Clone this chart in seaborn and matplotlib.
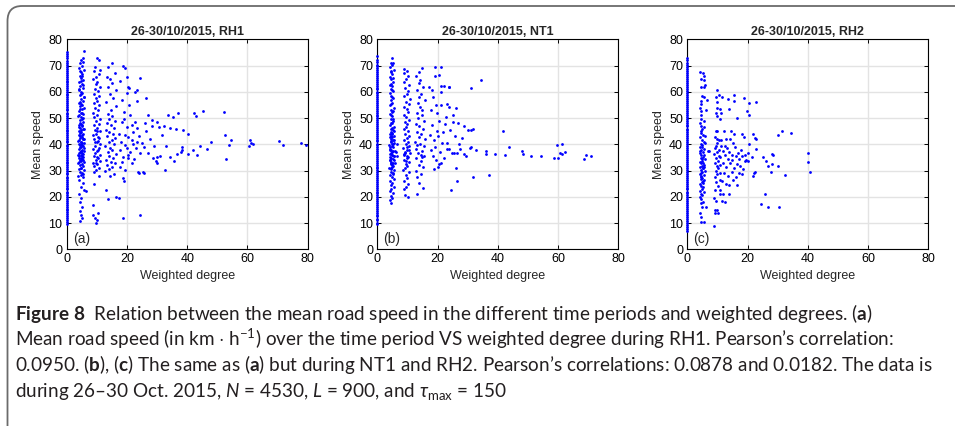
import pandas as pd
import seaborn as sns
import matplotlib.pyplot as plt
from matplotlib.path import Path
from matplotlib.patches import PathPatch

# ---- data ----
titles = ['26-30/10/2015, RH1', '26-30/10/2015, NT1', '26-30/10/2015, RH2']
tags = ['(a)', '(b)', '(c)']

# RH1: speeds of roads with weighted degree 0
rh1_zero_speed = [
    9.8, 10.5, 11.3, 12.0, 12.6, 13.4, 14.1, 14.9, 15.5, 16.2, 17.0, 17.8, 18.4,
    19.1, 19.9, 20.6, 21.3, 22.0, 22.8, 23.5, 24.1, 24.9, 25.6, 26.4, 27.0, 27.7,
    28.5, 29.2, 29.9, 30.6, 31.3, 32.1, 32.8, 33.4, 34.2, 34.9, 35.7, 36.3, 37.0,
    37.8, 38.5, 39.2, 39.9, 40.7, 41.4, 42.0, 42.8, 43.5, 44.3, 44.9, 45.6, 46.4,
    47.1, 47.8, 48.5, 49.3, 50.0, 50.6, 51.4, 52.1, 52.9, 53.5, 54.2, 55.0, 55.7,
    56.4, 57.1, 57.9, 58.6, 59.2, 60.0, 60.7, 61.5, 62.1, 62.8, 63.6, 64.3, 65.0,
    65.7, 66.5, 67.2, 67.8, 68.6, 69.3, 70.1, 70.8, 71.6, 72.7, 73.5, 74.4, 75.3]

# RH1: (weighted degree, mean speed) for the other roads
rh1_points = [
    (4.4, 10.9), (5.1, 11.8), (4.6, 13.2), (4.3, 14.5), (5.0, 16.0), (4.5, 18.1),
    (4.8, 19.4), (4.2, 21.0), (5.9, 22.6), (6.3, 22.4), (4.7, 23.9), (5.3, 25.2),
    (4.1, 26.5), (5.5, 27.4), (3.9, 28.0), (4.7, 28.4), (5.1, 29.1), (4.3, 29.5),
    (5.6, 30.2), (4.1, 30.6), (4.9, 31.0), (5.3, 31.7), (4.5, 32.1), (3.8, 32.8),
    (5.7, 33.2), (4.4, 33.9), (5.0, 34.3), (4.2, 34.6), (5.4, 35.2), (4.8, 35.8),
    (3.9, 36.1), (5.2, 36.7), (4.6, 37.3), (5.8, 37.6), (4.1, 38.2), (4.9, 38.9),
    (5.5, 39.3), (4.3, 39.8), (5.1, 40.4), (4.7, 40.9), (3.9, 41.3), (5.6, 41.9),
    (4.4, 42.5), (5.0, 42.8), (4.2, 43.4), (5.3, 44.1), (4.8, 44.6), (4.0, 45.0),
    (5.7, 45.7), (4.5, 46.2), (5.2, 46.8), (4.1, 47.3), (4.9, 47.9), (5.5, 48.5),
    (4.3, 49.1), (5.1, 49.6), (4.6, 50.3), (3.9, 50.9), (5.4, 51.4), (4.7, 52.1),
    (4.2, 52.8), (5.0, 53.3), (5.6, 54.0), (4.4, 54.7), (4.9, 55.2), (4.1, 55.9),
    (5.3, 56.6), (4.6, 57.3), (5.8, 57.9), (4.3, 58.6), (5.1, 59.4), (4.7, 60.1),
    (4.0, 60.8), (5.5, 61.6), (4.5, 62.3), (5.0, 63.1), (4.2, 63.9), (5.4, 64.6),
    (4.8, 65.4), (4.4, 66.1), (5.2, 66.9), (4.6, 67.6), (5.6, 68.3), (4.1, 69.0),
    (5.0, 69.7), (4.4, 70.8), (5.3, 71.5), (4.8, 72.3), (5.5, 73.0), (5.9, 75.7),
    (4.6, 33.5), (5.2, 35.5), (4.3, 37.0), (4.9, 40.1), (5.4, 42.2), (4.5, 44.3),
    (5.1, 38.0), (4.0, 36.8), (5.7, 40.6), (4.2, 41.7),
    (5.4, 28.8), (4.6, 30.9), (5.0, 32.5), (4.2, 33.1), (5.5, 34.0), (4.7, 34.9),
    (4.1, 35.5), (5.3, 36.4), (4.8, 37.0), (5.6, 38.5), (4.4, 39.0), (5.2, 39.9),
    (4.0, 40.2), (4.9, 41.0), (5.5, 42.0), (4.3, 43.0), (5.1, 43.7), (4.6, 45.3),
    (5.5, 46.0), (4.2, 46.5), (5.0, 47.5), (4.5, 48.2), (5.3, 49.9), (4.1, 51.0),
    (5.0, 51.8), (4.5, 53.6), (5.2, 55.0), (4.3, 56.2), (5.6, 58.2), (4.9, 59.0),
    (4.2, 61.0), (5.3, 62.7), (4.7, 64.0), (5.0, 66.0), (4.5, 68.0),
    (9.7, 9.9), (10.0, 11.2), (9.4, 12.1), (8.8, 13.1), (10.5, 13.7), (8.8, 16.9),
    (9.1, 25.0), (10.6, 27.8), (8.9, 29.5), (9.6, 30.3), (10.8, 30.9), (9.2, 31.6),
    (10.2, 32.4), (8.7, 33.0), (11.0, 33.6), (9.8, 34.2), (10.4, 34.9), (9.0, 35.5),
    (10.9, 36.1), (9.5, 36.8), (10.1, 37.4), (8.8, 38.1), (10.7, 38.7), (9.3, 39.4),
    (11.2, 40.0), (9.9, 40.7), (10.5, 41.3), (9.1, 42.0), (10.3, 42.8), (8.6, 43.5),
    (9.7, 44.1), (10.9, 44.9), (9.4, 45.6), (10.2, 46.4), (8.9, 47.2), (10.6, 47.9),
    (9.6, 48.8), (11.1, 49.6), (9.2, 50.4), (10.0, 51.3), (8.7, 52.1), (10.4, 53.0),
    (9.5, 53.9), (10.8, 54.8), (9.0, 55.7), (10.1, 56.6), (9.7, 57.5), (10.6, 58.4),
    (8.9, 59.3), (10.3, 60.2), (9.4, 61.1), (11.0, 62.0), (9.8, 62.9), (10.2, 63.9),
    (8.8, 64.8), (9.6, 65.7), (10.7, 66.8), (8.9, 68.1), (11.1, 68.3), (9.3, 69.5),
    (10.7, 72.1), (10.0, 72.8), (9.9, 35.0), (10.4, 37.8), (9.4, 41.0), (10.1, 45.2),
    (9.7, 33.0), (10.8, 42.5),
    (13.0, 22.5), (13.8, 19.2), (16.2, 20.1), (14.5, 27.9), (15.6, 28.6), (12.8, 29.8),
    (14.1, 30.5), (15.2, 31.2), (13.4, 32.0), (16.0, 32.7), (14.7, 33.4), (12.9, 34.1),
    (15.5, 34.9), (14.0, 35.6), (16.3, 36.2), (13.6, 37.0), (15.0, 37.7), (14.4, 38.5),
    (12.7, 39.2), (15.8, 40.0), (13.9, 40.7), (14.9, 41.5), (16.1, 42.3), (13.3, 43.0),
    (15.3, 43.8), (14.2, 44.7), (12.9, 45.5), (15.7, 46.3), (14.6, 47.2), (13.5, 48.0),
    (16.0, 48.9), (14.1, 49.8), (15.1, 50.7), (13.7, 51.6), (14.8, 53.0), (16.2, 54.5),
    (13.2, 56.0), (15.4, 57.5), (14.3, 59.0), (16.4, 60.6), (13.6, 62.0), (15.0, 63.5),
    (14.5, 65.0), (13.3, 65.8), (16.0, 67.3), (13.6, 69.6), (15.0, 71.1),
    (18.8, 70.0), (19.4, 69.0), (19.9, 65.8), (20.2, 62.0), (20.8, 61.3), (19.9, 59.4),
    (19.0, 52.4), (18.3, 48.6), (19.9, 46.7), (21.0, 51.2), (21.6, 47.4), (22.7, 48.6),
    (23.2, 46.1), (22.1, 44.8), (20.5, 42.9), (21.6, 41.7), (23.2, 41.0), (19.4, 39.7),
    (17.7, 37.8), (21.0, 37.2), (23.0, 38.5), (24.3, 36.6), (18.8, 35.3), (20.5, 34.7),
    (18.3, 33.4), (21.6, 32.8), (23.8, 29.6), (25.2, 29.3), (18.8, 27.0), (17.2, 19.4),
    (18.8, 12.1), (24.3, 13.1), (24.3, 65.1), (23.2, 60.7), (26.3, 57.5), (22.7, 60.1),
    (23.4, 56.5), (17.5, 44.0), (18.0, 41.0), (19.2, 43.5), (20.0, 38.5), (17.8, 31.5),
    (19.5, 30.2), (22.5, 34.5), (20.7, 55.0), (18.5, 57.0), (17.6, 64.0), (19.1, 49.5),
    (22.0, 40.2), (24.0, 43.2), (20.3, 36.0), (18.9, 26.2),
    (27.1, 51.2), (28.3, 49.3), (28.4, 47.0), (30.0, 48.6), (30.7, 46.6), (32.2, 47.0),
    (33.6, 51.2), (34.4, 46.1), (35.3, 50.3), (36.2, 45.7), (36.8, 51.8), (38.7, 45.6),
    (40.4, 43.9), (42.2, 51.9), (42.8, 50.9), (45.3, 52.8), (52.2, 52.2), (52.4, 43.4),
    (54.6, 41.7), (53.9, 39.6), (52.9, 34.5), (48.0, 41.0), (46.7, 38.1), (44.4, 39.4),
    (43.2, 35.9), (41.9, 37.8), (40.3, 36.2), (38.4, 39.1), (38.2, 37.8), (37.8, 37.2),
    (36.7, 36.3), (35.6, 33.5), (34.4, 35.3), (33.1, 39.4), (31.1, 35.6), (30.0, 35.3),
    (29.7, 33.7), (30.0, 33.0), (32.6, 30.2), (28.7, 34.8), (27.1, 36.6), (25.8, 39.1),
    (25.0, 40.4), (25.6, 29.1), (24.0, 29.1), (60.9, 41.7), (61.1, 40.4), (60.6, 39.5),
    (61.8, 40.0), (70.6, 41.1), (71.8, 39.6), (77.7, 40.6), (79.6, 39.9), (26.3, 45.0),
    (27.5, 42.0), (29.0, 39.5), (31.5, 43.5), (26.0, 48.0)]

# NT1
nt1_zero_speed = [
    9.5, 10.2, 11.0, 11.7, 12.5, 13.2, 13.9, 14.7, 15.4, 16.1, 16.9, 17.6, 18.3,
    19.1, 19.8, 20.5, 21.3, 22.0, 22.7, 23.5, 24.2, 24.9, 25.7, 26.4, 27.1, 27.9,
    28.6, 29.3, 30.1, 30.8, 31.5, 32.3, 33.0, 33.7, 34.5, 35.2, 35.9, 36.7, 37.4,
    38.1, 38.9, 39.6, 40.3, 41.1, 41.8, 42.5, 43.3, 44.0, 44.7, 45.5, 46.2, 46.9,
    47.7, 48.4, 49.1, 49.9, 50.6, 51.3, 52.1, 52.8, 53.5, 54.3, 55.0, 55.7, 56.5,
    57.2, 57.9, 58.7, 59.4, 60.1, 60.9, 61.6, 62.3, 63.1, 63.8, 64.5, 65.3, 66.0,
    66.7, 67.5, 68.2, 68.9, 69.7, 70.4, 71.2, 72.1, 73.5]

nt1_points = [
    (4.6, 17.8), (4.3, 18.6), (4.9, 19.5), (4.4, 20.4), (5.1, 21.3), (4.2, 22.1),
    (4.7, 22.9), (5.4, 23.7), (4.5, 24.5), (5.0, 25.3), (4.1, 26.1), (5.6, 26.9),
    (4.8, 27.6), (4.3, 28.3), (5.2, 29.0), (4.6, 29.6), (5.7, 30.2), (4.0, 30.8),
    (4.9, 31.3), (5.3, 31.9), (4.4, 32.4), (5.8, 32.9), (4.7, 33.4), (4.1, 33.9),
    (5.1, 34.4), (4.5, 34.9), (5.5, 35.4), (4.8, 35.9), (4.2, 36.4), (5.0, 36.9),
    (5.9, 37.4), (4.6, 37.9), (4.3, 38.4), (5.3, 38.9), (4.9, 39.4), (4.0, 39.9),
    (5.6, 40.4), (4.5, 40.9), (5.1, 41.5), (4.7, 42.1), (4.2, 42.7), (5.4, 43.3),
    (4.8, 43.9), (4.4, 44.6), (5.2, 45.3), (4.6, 46.0), (5.7, 46.7), (4.1, 47.4),
    (4.9, 48.2), (5.3, 49.0), (4.5, 49.8), (4.8, 50.6), (4.2, 51.4), (5.0, 52.2),
    (4.6, 53.1), (5.4, 54.0), (4.3, 54.9), (4.9, 55.8), (4.5, 56.7), (5.1, 57.6),
    (4.7, 58.5), (4.2, 59.4), (5.3, 60.3), (4.6, 61.2), (4.9, 62.1), (4.4, 63.0),
    (5.2, 63.9), (4.7, 64.8), (4.1, 65.7), (5.0, 66.6), (4.5, 67.5), (5.4, 68.4),
    (4.3, 69.3), (4.8, 70.2), (4.4, 71.0), (4.9, 73.0), (6.5, 40.0), (6.2, 37.0),
    (6.6, 35.5), (4.4, 30.5), (5.0, 32.0), (4.6, 33.0), (5.4, 34.0), (4.3, 35.0),
    (4.9, 36.0), (5.2, 37.5), (4.1, 38.8), (4.8, 40.2), (5.5, 41.8), (4.4, 43.0),
    (5.0, 44.2),
    (5.3, 28.6), (4.5, 31.0), (5.1, 32.9), (4.3, 34.2), (5.6, 35.7), (4.7, 36.6),
    (4.1, 37.7), (5.3, 40.0), (4.6, 41.2), (5.0, 42.9), (4.3, 44.0), (5.4, 45.0),
    (4.8, 46.4), (4.4, 48.0), (5.1, 49.5), (4.6, 51.0), (5.3, 52.7), (4.4, 55.5),
    (5.0, 58.0), (4.8, 60.8), (4.3, 62.5), (5.1, 65.2), (4.6, 68.0), (5.2, 70.8),
    (9.2, 20.7), (10.1, 20.1), (8.9, 22.8), (9.6, 23.9), (10.3, 25.0), (8.7, 26.0),
    (9.9, 27.2), (9.4, 28.2), (10.6, 29.3), (8.5, 30.1), (9.1, 31.0), (10.0, 31.8),
    (9.5, 32.6), (10.4, 33.3), (8.8, 34.0), (9.7, 34.7), (10.2, 35.3), (9.0, 35.9),
    (10.7, 36.5), (9.3, 37.2), (9.9, 37.9), (8.6, 38.6), (10.5, 39.3), (9.4, 40.0),
    (10.1, 40.8), (8.9, 41.6), (9.8, 42.4), (10.6, 43.2), (9.2, 44.0), (10.3, 44.9),
    (8.7, 45.8), (9.6, 46.7), (10.0, 47.6), (9.1, 48.5), (10.5, 49.4), (9.5, 50.3),
    (8.8, 51.3), (10.2, 52.3), (9.7, 53.3), (9.0, 54.3), (10.4, 55.3), (9.4, 56.3),
    (10.8, 57.3), (8.9, 58.3), (9.8, 59.3), (10.1, 60.4), (9.3, 61.5), (10.6, 62.6),
    (8.7, 63.7), (9.6, 64.8), (10.3, 66.0), (9.0, 67.2), (9.9, 68.0), (8.8, 68.7),
    (9.4, 33.5), (10.0, 35.6), (9.1, 36.8), (10.4, 38.0), (9.7, 39.0), (8.9, 36.2),
    (13.1, 21.0), (15.3, 23.5), (13.9, 25.4), (13.3, 27.5), (14.6, 28.8), (12.7, 30.0),
    (15.1, 31.2), (13.8, 32.3), (14.4, 33.5), (12.9, 34.6), (15.6, 35.6), (13.5, 36.5),
    (14.8, 37.4), (13.0, 38.3), (15.4, 39.2), (14.1, 40.1), (12.6, 41.0), (15.8, 41.9),
    (13.7, 42.8), (14.5, 43.8), (13.2, 44.8), (15.2, 45.8), (14.0, 46.8), (12.8, 47.8),
    (15.5, 48.8), (13.6, 49.9), (14.7, 51.0), (13.1, 52.1), (15.0, 53.2), (14.2, 54.4),
    (13.4, 55.6), (15.7, 56.8), (13.9, 58.0), (14.6, 59.2), (13.2, 60.5), (15.1, 61.8),
    (13.7, 63.2), (14.3, 64.6), (13.0, 66.0), (13.8, 67.6), (15.0, 69.2), (14.4, 36.0),
    (13.3, 39.6), (15.0, 35.0),
    (19.1, 66.2), (20.6, 66.3), (21.0, 62.2), (22.1, 62.2), (21.1, 55.0), (23.0, 55.4),
    (19.9, 51.8), (18.5, 58.0), (19.5, 55.0), (17.8, 53.0), (20.5, 49.0), (18.2, 47.5),
    (19.8, 45.0), (17.5, 43.5), (20.2, 43.0), (18.7, 41.5), (21.5, 40.5), (19.3, 39.0),
    (17.9, 37.8), (20.8, 37.0), (18.4, 35.5), (19.6, 34.2), (21.2, 33.0), (20.0, 31.5),
    (18.8, 30.5), (22.0, 34.8), (21.8, 44.5), (22.5, 47.8), (17.3, 62.0), (18.0, 60.5),
    (21.3, 60.0), (22.8, 50.5), (19.0, 69.5), (21.0, 69.6), (20.4, 32.5),
    (23.7, 61.7), (23.9, 61.7), (23.9, 54.3), (25.2, 51.2), (26.1, 53.7), (26.9, 48.0),
    (28.8, 47.0), (31.2, 45.3), (30.2, 45.5), (31.9, 46.0), (34.4, 64.4), (31.1, 61.6),
    (28.1, 42.5), (25.9, 43.0), (24.7, 36.6), (23.3, 40.6), (23.9, 38.2), (23.0, 38.2),
    (25.4, 36.7), (26.5, 36.6), (27.4, 38.2), (28.8, 36.3), (29.6, 35.6), (30.8, 38.7),
    (31.1, 39.1), (32.7, 37.8), (36.1, 37.6), (36.1, 36.2), (39.0, 36.2), (41.8, 45.1),
    (42.3, 35.9), (43.8, 39.0), (48.0, 37.3), (48.5, 36.4), (51.1, 35.7), (54.4, 35.6),
    (58.8, 34.9), (59.8, 39.9), (60.1, 34.9), (60.6, 36.8), (61.3, 40.3), (61.3, 36.4),
    (62.2, 37.0), (68.7, 34.5), (69.4, 36.1), (70.8, 35.7), (26.1, 31.1), (31.9, 27.7),
    (37.2, 28.3), (26.5, 26.0), (24.4, 22.6), (24.0, 45.5), (25.0, 48.5), (27.0, 40.0)]

# RH2
rh2_zero_speed = [
    7.0, 7.8, 8.5, 9.3, 10.0, 10.8, 11.5, 12.3, 13.0, 13.8, 14.5, 15.3, 16.0, 16.8,
    17.5, 18.3, 19.0, 19.8, 20.5, 21.3, 22.0, 22.8, 23.5, 24.3, 25.0, 25.8, 26.5,
    27.3, 28.0, 28.8, 29.5, 30.3, 31.0, 31.8, 32.5, 33.3, 34.0, 34.8, 35.5, 36.3,
    37.0, 37.8, 38.5, 39.3, 40.0, 40.8, 41.5, 42.3, 43.0, 43.8, 44.5, 45.3, 46.0,
    46.8, 47.5, 48.3, 49.0, 49.8, 50.5, 51.3, 52.0, 52.8, 53.5, 54.3, 55.0, 55.8,
    56.5, 57.3, 58.0, 58.8, 59.5, 60.3, 61.0, 61.8, 62.5, 63.3, 64.0, 64.8, 65.5,
    66.3, 67.0, 67.8, 68.5, 69.3, 70.1, 71.0, 72.0, 73.0]

rh2_points = [
    (4.5, 10.5), (5.5, 10.5), (4.5, 12.4), (4.3, 13.8), (4.8, 16.3), (6.2, 16.3),
    (4.4, 17.5), (5.2, 18.2), (4.6, 19.0), (4.2, 19.8), (5.0, 20.5), (4.7, 21.2),
    (5.6, 21.8), (4.3, 22.4), (4.9, 23.0), (5.3, 23.6), (4.5, 24.1), (4.1, 24.7),
    (5.1, 25.2), (4.8, 25.8), (5.7, 26.3), (4.4, 26.8), (5.0, 27.3), (4.6, 27.8),
    (5.4, 28.3), (4.2, 28.8), (4.9, 29.3), (5.8, 29.8), (4.5, 30.3), (5.2, 30.8),
    (4.3, 31.3), (4.8, 31.8), (5.5, 32.3), (4.6, 32.8), (4.1, 33.3), (5.0, 33.8),
    (5.9, 34.3), (4.4, 34.8), (5.3, 35.3), (4.7, 35.9), (4.2, 36.5), (5.1, 37.1),
    (4.6, 37.7), (5.6, 38.3), (4.3, 38.9), (4.9, 39.6), (4.5, 40.3), (5.4, 41.0),
    (4.8, 41.8), (4.2, 42.6), (5.2, 43.4), (4.6, 44.2), (4.4, 45.1), (5.0, 46.0),
    (4.7, 47.0), (4.3, 48.0), (5.5, 48.8), (4.6, 49.8), (4.4, 51.0), (4.7, 52.5),
    (4.3, 54.0), (4.6, 55.3), (4.4, 56.6), (4.8, 58.5), (4.5, 61.7), (5.5, 61.7),
    (5.8, 62.7), (4.4, 64.9), (4.3, 67.4), (5.3, 67.0), (5.5, 66.2), (5.6, 64.5),
    (5.7, 58.0), (6.1, 53.0), (6.5, 57.0), (7.0, 37.5), (7.2, 37.6), (5.6, 46.5),
    (5.8, 43.0), (6.0, 40.5), (5.3, 26.0), (4.5, 29.0), (5.1, 31.0), (4.9, 34.5),
    (5.5, 36.0), (4.3, 37.3), (5.0, 39.0), (5.7, 31.5), (4.4, 27.6), (5.2, 33.0),
    (9.0, 8.9), (9.2, 15.0), (10.0, 15.0), (9.2, 13.7), (10.1, 13.7), (9.0, 19.5),
    (9.6, 18.5), (10.7, 21.0), (9.3, 22.5), (10.2, 24.0), (9.5, 25.5), (10.8, 26.5),
    (9.1, 27.5), (10.0, 28.5), (11.0, 29.0), (9.4, 30.0), (10.3, 30.8), (9.7, 31.6),
    (10.9, 32.3), (9.2, 33.0), (10.1, 33.8), (9.6, 34.6), (10.6, 35.4), (9.0, 36.2),
    (9.9, 37.0), (10.4, 37.8), (9.3, 38.6), (11.2, 39.3), (9.7, 40.5), (10.0, 42.0),
    (9.2, 42.9), (9.5, 39.5), (10.5, 41.5), (9.4, 45.0), (10.0, 45.2), (9.5, 51.8),
    (9.9, 50.8), (9.9, 53.7), (10.8, 53.3), (11.2, 51.8), (9.5, 58.2), (10.0, 60.7),
    (10.6, 58.8), (11.4, 58.0), (11.0, 49.5), (9.8, 56.0),
    (13.6, 57.1), (15.4, 58.8), (15.4, 56.5), (18.9, 57.8), (20.4, 55.9), (22.7, 56.3),
    (20.6, 51.2), (19.9, 52.7), (16.4, 49.9), (13.9, 53.3), (12.2, 45.2), (14.5, 45.2),
    (15.5, 43.8), (18.0, 43.8), (18.9, 42.9), (21.7, 43.8), (22.5, 42.5), (22.8, 41.9),
    (20.6, 40.0), (15.2, 40.4), (14.2, 42.2), (12.7, 41.9), (11.3, 41.7), (30.0, 43.7),
    (31.6, 45.0), (34.3, 44.4), (22.7, 38.3), (25.1, 35.3), (26.1, 33.7), (28.1, 36.2),
    (28.6, 35.8), (28.0, 32.5), (26.9, 31.9), (30.1, 31.9), (32.5, 28.4), (27.9, 29.6),
    (22.6, 29.6), (22.2, 29.0), (21.8, 27.9), (25.7, 20.9), (24.5, 17.3), (26.9, 16.3),
    (30.3, 16.3), (40.2, 36.6), (40.0, 33.4), (40.7, 29.6),
    (11.8, 37.5), (12.5, 36.0), (13.2, 38.5), (14.0, 37.0), (15.0, 36.0), (16.0, 35.5),
    (17.0, 34.5), (18.0, 35.5), (19.0, 35.8), (19.5, 34.0), (12.0, 33.0), (13.0, 31.5),
    (14.3, 32.8), (15.5, 31.0), (16.5, 32.5), (17.5, 31.8), (18.5, 30.5), (19.2, 33.5),
    (12.3, 29.0), (13.5, 28.0), (14.8, 29.5), (16.0, 27.5), (17.2, 29.0), (18.3, 28.5),
    (11.5, 26.0), (12.8, 25.0), (13.8, 24.5), (15.2, 26.5), (16.5, 24.5), (11.0, 22.5),
    (12.0, 21.0), (14.0, 21.0), (11.5, 18.5), (12.5, 18.0), (16.8, 36.8), (13.6, 34.5),
    (15.8, 38.8), (17.8, 38.0), (20.2, 33.5), (11.0, 35.0), (12.6, 39.5), (14.7, 34.0),
    (21.5, 35.0), (20.0, 36.5)]

caption_lines = [
    r'$\mathbf{Figure\ 8}$  Relation between the mean road speed in the different time periods and weighted degrees. ($\mathbf{a}$)',
    r'Mean road speed (in km $\cdot$ h$^{-1}$) over the time period VS weighted degree during RH1. Pearson’s correlation:',
    r'0.0950. ($\mathbf{b}$), ($\mathbf{c}$) The same as ($\mathbf{a}$) but during NT1 and RH2. Pearson’s correlations: 0.0878 and 0.0182. The data is',
    r'during 26–30 Oct. 2015, $N$ = 4530, $L$ = 900, and $\tau_{\mathrm{max}}$ = 150',
]


def make_frame(zero_speed, points):
    deg = [0.0 for _ in zero_speed] + [p[0] for p in points]
    spd = list(zero_speed) + [p[1] for p in points]
    return pd.DataFrame({'degree': deg, 'speed': spd})


frames = [make_frame(rh1_zero_speed, rh1_points),
          make_frame(nt1_zero_speed, nt1_points),
          make_frame(rh2_zero_speed, rh2_points)]

sns.set_style('white')
plt.rcParams['font.family'] = ['Liberation Sans', 'DejaVu Sans']
plt.rcParams['mathtext.fontset'] = 'custom'
plt.rcParams['mathtext.rm'] = 'Lato'
plt.rcParams['mathtext.it'] = 'Lato:italic'
plt.rcParams['mathtext.bf'] = 'Lato:bold'

W, H = 955, 426
fig = plt.figure(figsize=(W / 100, H / 100), dpi=100)

lefts = [66.7, 377.3, 687.3]
for i, df in enumerate(frames):
    ax = fig.add_axes([lefts[i] / W, 1 - 249.3 / H, 241 / W, 210 / H])
    ax.grid(True, color='#e3e3e3', linewidth=1.0)
    ax.set_axisbelow(True)
    sns.scatterplot(data=df, x='degree', y='speed', ax=ax, color='#0000ff',
                    s=4, linewidth=0, clip_on=False, legend=False, zorder=3)
    ax.set_xlim(0, 80)
    ax.set_ylim(0, 80)
    ax.set_xticks([0, 20, 40, 60, 80])
    ax.set_yticks(range(0, 81, 10))
    ax.tick_params(direction='in', length=3, width=0.7, top=True, right=True,
                   bottom=True, left=True, labelsize=9, pad=3, colors='black')
    for sp in ax.spines.values():
        sp.set_color('black')
        sp.set_linewidth(0.8)
    ax.set_xlabel('Weighted degree', fontsize=9, labelpad=3)
    ax.set_ylabel('Mean speed', fontsize=9, labelpad=3)
    ax.set_title(titles[i], fontsize=9, fontweight='bold', pad=3)
    ax.text(0.025, 0.015, tags[i], transform=ax.transAxes, fontsize=10,
            ha='left', va='bottom')

# caption under the panels
baselines = [320, 345.5, 371, 396.5]
for line, yb in zip(caption_lines, baselines):
    fig.text(15 / W, 1 - yb / H, line, fontsize=13.6, family='Lato',
             color='#231f20', ha='left', va='baseline')

# open rounded frame around the figure
verts = [(7.5, 426), (7.5, 21), (7.5, 6), (22, 6), (955, 6)]
codes = [Path.MOVETO, Path.LINETO, Path.CURVE3, Path.CURVE3, Path.LINETO]
frame = Path([(x / W, 1 - y / H) for x, y in verts], codes)
fig.add_artist(PathPatch(frame, transform=fig.transFigure, fill=False,
                         edgecolor='#6b6b6b', linewidth=1.3))

fig.savefig('out.png', dpi=100)
